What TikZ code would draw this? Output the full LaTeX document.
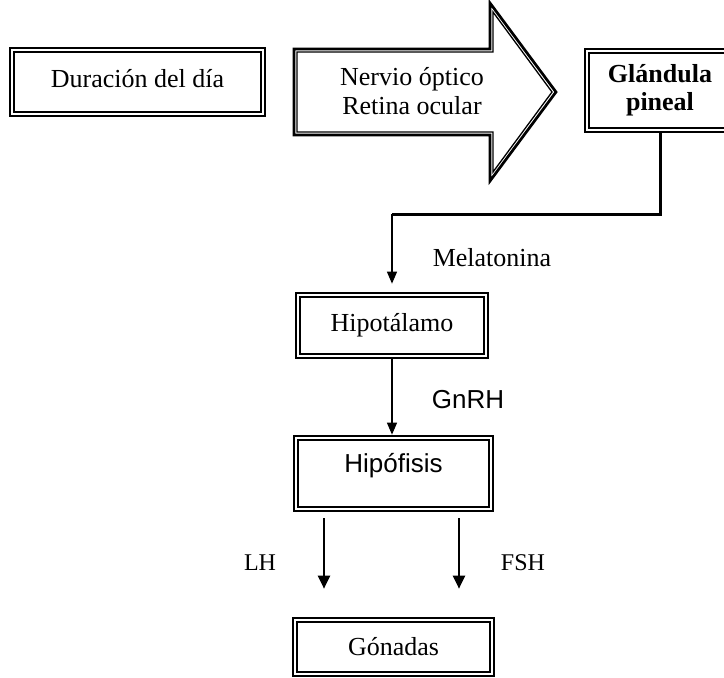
\documentclass[tikz,border=0pt]{standalone}
\usepackage{fontspec}
\setmainfont{Liberation Serif}
\setsansfont{Liberation Sans}
\usetikzlibrary{arrows.meta}

\begin{document}
\begin{tikzpicture}[x = 0.5pt, y = -0.5pt,
    doble/.style = {draw, line width = 1.35pt, inner sep = 0pt, align = center,
                    font = \fontsize{13}{14.5}\selectfont,
                    path picture = {\draw [line width = 0.65pt]
                      ([xshift = 2pt, yshift = -2pt]path picture bounding box.north west) rectangle
                      ([xshift = -2pt, yshift = 2pt]path picture bounding box.south east);}},
    rotulo/.style = {font = \fontsize{13}{14.5}\selectfont},
    fina/.style = {line width = 0.65pt, -{Triangle[width = 5pt, length = 6pt]}},
    gruesa/.style = {line width = 1.1pt, -{Triangle[width = 6pt, length = 6.5pt]},
                     shorten < = 3pt, shorten > = 14pt}]
  \useasboundingbox (0, 0) rectangle (724, 677);
  \clip (0, 0) rectangle (724, 677);

  \node [doble, minimum width = 127.5pt, minimum height = 34pt, text depth = 4pt] (dia) at (137.5, 82) {Duración del día};

  % flecha grande
  \draw [line width = 1.35pt] (294, 49) -- (490, 49) -- (490, 3) -- (556, 92) -- (490, 181) -- (490, 135) -- (294, 135) -- cycle;
  \draw [line width = 0.65pt] (297, 52) -- (493, 52) -- (493, 12) -- (552, 92) -- (493, 172) -- (493, 132) -- (297, 132) -- cycle;
  \node [rotulo, align = center] (nervio) at (412, 91) {Nervio óptico\\Retina ocular};

  \node [doble, minimum width = 75pt, minimum height = 41.5pt,
         font = \bfseries\fontsize{13}{14}\selectfont] (glandula) at (660, 90.5) {Glándula\\pineal};

  \coordinate (codo) at (392, 214);
  \node [doble, minimum width = 96pt, minimum height = 32.5pt] (hipotalamo) at (392, 325.5) {Hipotálamo};
  \node [doble, minimum width = 99.5pt, minimum height = 37.5pt, text depth = 11pt,
         font = \sffamily\fontsize{13}{14.5}\selectfont] (hipofisis) at (393.5, 473.5) {Hipófisis};
  \node [doble, minimum width = 100.5pt, minimum height = 29pt] (gonadas) at (393.5, 647) {Gónadas};

  \node [rotulo] (melatonina) at (492, 258) {Melatonina};
  \node [rotulo, font = \sffamily\fontsize{13}{14.5}\selectfont] (gnrh) at (468, 400) {GnRH};
  \node [rotulo, font = \fontsize{12}{14}\selectfont] (lh) at (260, 563) {LH};
  \node [rotulo, font = \fontsize{12}{14}\selectfont] (fsh) at (523, 563) {FSH};

  \draw [line width = 1.5pt] (glandula.south) |- (codo);
  \draw [fina, shorten > = 4pt] (codo) -- (hipotalamo.north);
  \draw [fina] (hipotalamo.south) -- (hipotalamo.south |- hipofisis.north);
  \draw [gruesa] ([xshift = -34.75pt]hipofisis.south) -- ([xshift = -34.75pt]hipofisis.south |- gonadas.north);
  \draw [gruesa] ([xshift = 32.75pt]hipofisis.south) -- ([xshift = 32.75pt]hipofisis.south |- gonadas.north);

\end{tikzpicture}
\end{document}
